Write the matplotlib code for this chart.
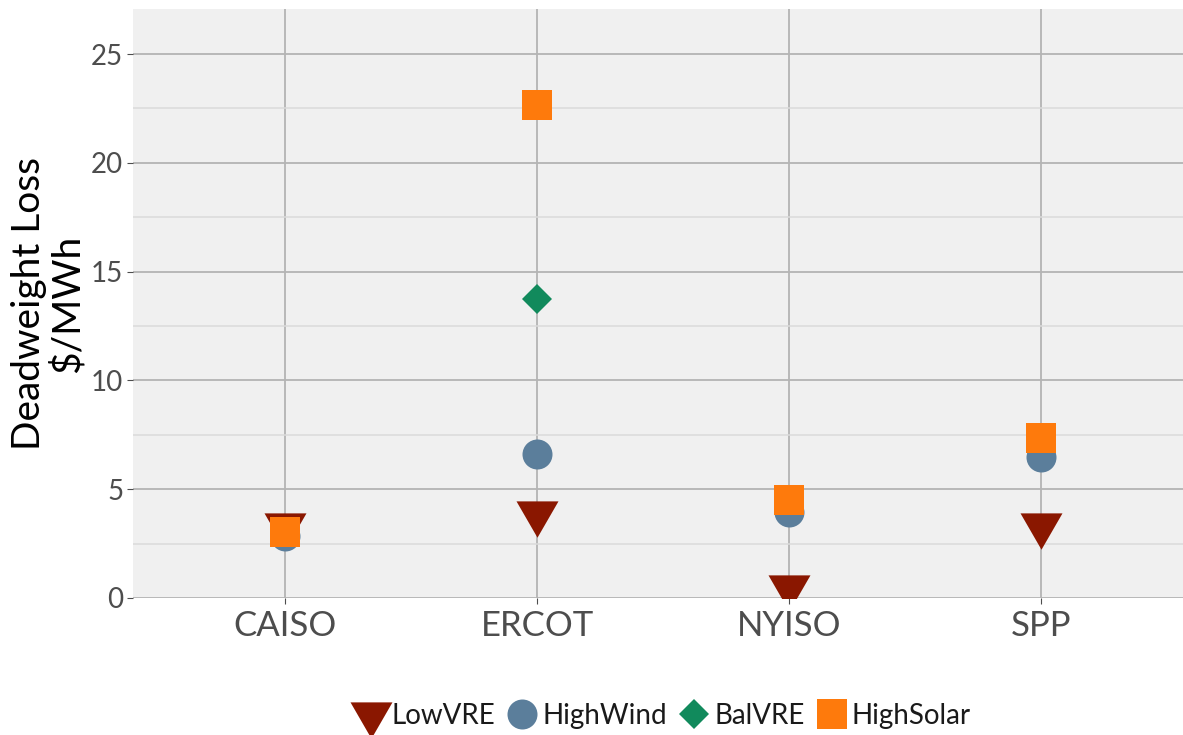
import matplotlib
matplotlib.use("Agg")
import matplotlib.pyplot as plt
from matplotlib.lines import Line2D
import numpy as np

plt.rcParams['font.family'] = ['Lato', 'DejaVu Sans']

categories = ["CAISO", "ERCOT", "NYISO", "SPP"]
series = ["LowVRE", "HighWind", "BalVRE", "HighSolar"]
low_vre = [3.35, 3.9, 0.5, 3.35]
high_wind = [2.85, 6.6, 3.95, 6.5]
bal_vre = [None, 13.74, None, None]
high_solar = [3.05, 22.66, 4.5, 7.35]
yticks = [0, 5, 10, 15, 20, 25]

colors = {"LowVRE": "#8a1700", "HighWind": "#5b7e9b", "BalVRE": "#118a5c", "HighSolar": "#fe7a0c"}

tri_down = [(0, -1), (0.866, 0.5), (-0.866, 0.5), (0, -1)]
markers = {"LowVRE": (tri_down, 34.9), "HighWind": ("o", 21.6),
           "BalVRE": ("D", 15.3), "HighSolar": ("s", 22.0)}
values = {"LowVRE": low_vre, "HighWind": high_wind, "BalVRE": bal_vre, "HighSolar": high_solar}

fig = plt.figure(figsize=(11.83, 7.35), dpi=100)
ax = fig.add_axes([133/1183, 1 - 598/735, 1 - 133/1183, (598 - 9)/735])
ax.set_facecolor("#f0f0f0")
for s in ax.spines.values():
    s.set_visible(False)

x = np.arange(len(categories))
for name in series:
    vals = values[name]
    xs = [xi for xi, v in zip(x, vals) if v is not None]
    ys = [v for v in vals if v is not None]
    m, ms = markers[name]
    ax.plot(xs, ys, linestyle="none", marker=m, markersize=ms, color=colors[name],
            markeredgewidth=0, zorder=3, clip_on=True)

ax.set_xlim(-0.603, 3.563)
ax.set_ylim(0, 27.07)
ax.set_yticks(yticks)
ax.set_yticks([2.5, 7.5, 12.5, 17.5, 22.5], minor=True)
ax.set_xticks(x)
ax.set_xticklabels(categories)
ax.grid(which="major", color="#b4b4b4", linewidth=1.3, zorder=0)
ax.grid(which="minor", axis="y", color="#dadada", linewidth=1.1, zorder=0)
ax.set_axisbelow(True)
ax.tick_params(axis="y", which="major", labelsize=20, labelcolor="#4d4d4d", color="#4d4d4d", length=4, pad=3)
ax.tick_params(axis="x", which="major", labelsize=25, labelcolor="#4d4d4d", color="#4d4d4d", length=4, pad=5)
ax.tick_params(which="minor", length=0)
ax.set_ylabel("Deadweight Loss\n$/MWh", fontsize=28, color="black", labelpad=4, linespacing=1.05)

handles = []
for name in series:
    m, ms = markers[name]
    handles.append(Line2D([], [], linestyle="none", marker=m, markersize=ms * 1.0,
                          color=colors[name], markeredgewidth=0))
fig.legend(handles, series, loc="center", bbox_to_anchor=(661/1183, 1 - 716/735), ncol=4,
           frameon=False, fontsize=20, handletextpad=0.0, columnspacing=0.25,
           handlelength=1.45, borderaxespad=0, labelcolor="#1a1a1a")

fig.savefig("out.png", dpi=100)
